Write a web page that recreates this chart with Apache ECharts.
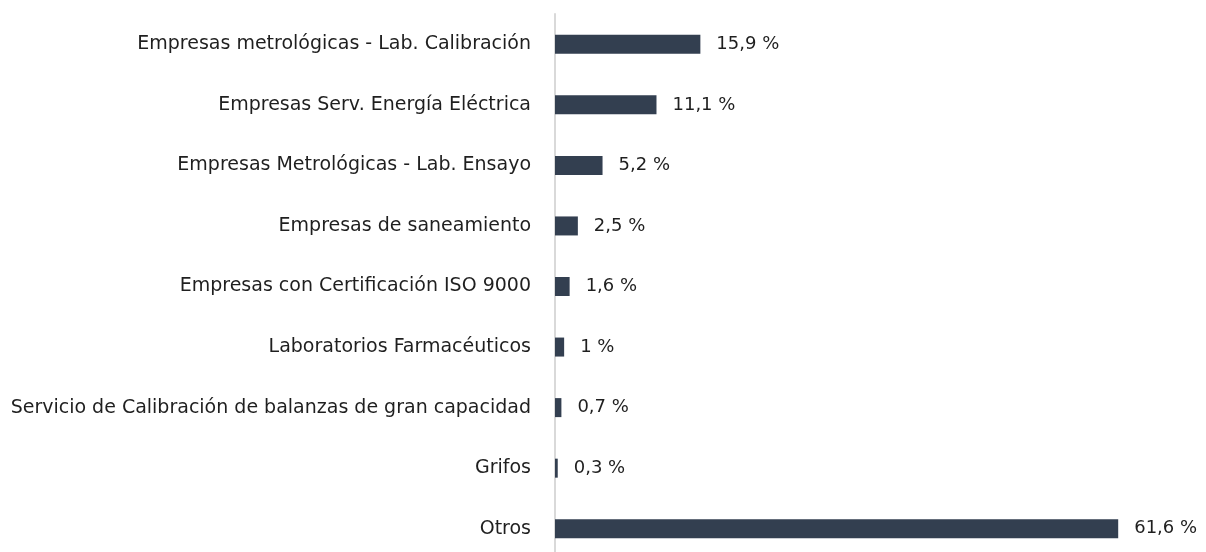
<!DOCTYPE html>
<html><head><meta charset="utf-8">
<script src="https://cdn.jsdelivr.net/npm/echarts@6/dist/echarts.min.js"></script>
<style>html,body{margin:0;padding:0;background:#fff;overflow:hidden}#c{width:1206px;height:562px}</style>
</head><body><div id="c"></div>
<script>
const categories = ["Empresas metrológicas - Lab. Calibración","Empresas Serv. Energía Eléctrica","Empresas Metrológicas - Lab. Ensayo","Empresas de saneamiento","Empresas con Certificación ISO 9000","Laboratorios Farmacéuticos","Servicio de Calibración de balanzas de gran capacidad","Grifos","Otros"];
const values = [15.9, 11.1, 5.2, 2.5, 1.6, 1, 0.7, 0.3, 61.6];
const valueLabels = ["15,9 %","11,1 %","5,2 %","2,5 %","1,6 %","1 %","0,7 %","0,3 %","61,6 %"];
const chart = echarts.init(document.getElementById('c'));
chart.setOption({
  animation:false,
  grid:{left:555,right:11,top:14,height:545,containLabel:false},
  xAxis:{type:'value',min:0,max:70,show:false},
  yAxis:{type:'category',inverse:true,data:categories,
    axisLine:{show:true,lineStyle:{color:'#d9d9d9',width:2}},
    axisTick:{show:false},
    axisLabel:{margin:24,fontFamily:'DejaVu Sans',fontSize:19,color:'#1f1f1f'}},
  series:[{type:'bar',data:values,barWidth:19,itemStyle:{color:'#333f50'},
    label:{show:true,position:'right',distance:16,fontFamily:'DejaVu Sans',fontSize:18,color:'#1f1f1f',
      formatter:p=>valueLabels[p.dataIndex]}}]
});
</script></body></html>
